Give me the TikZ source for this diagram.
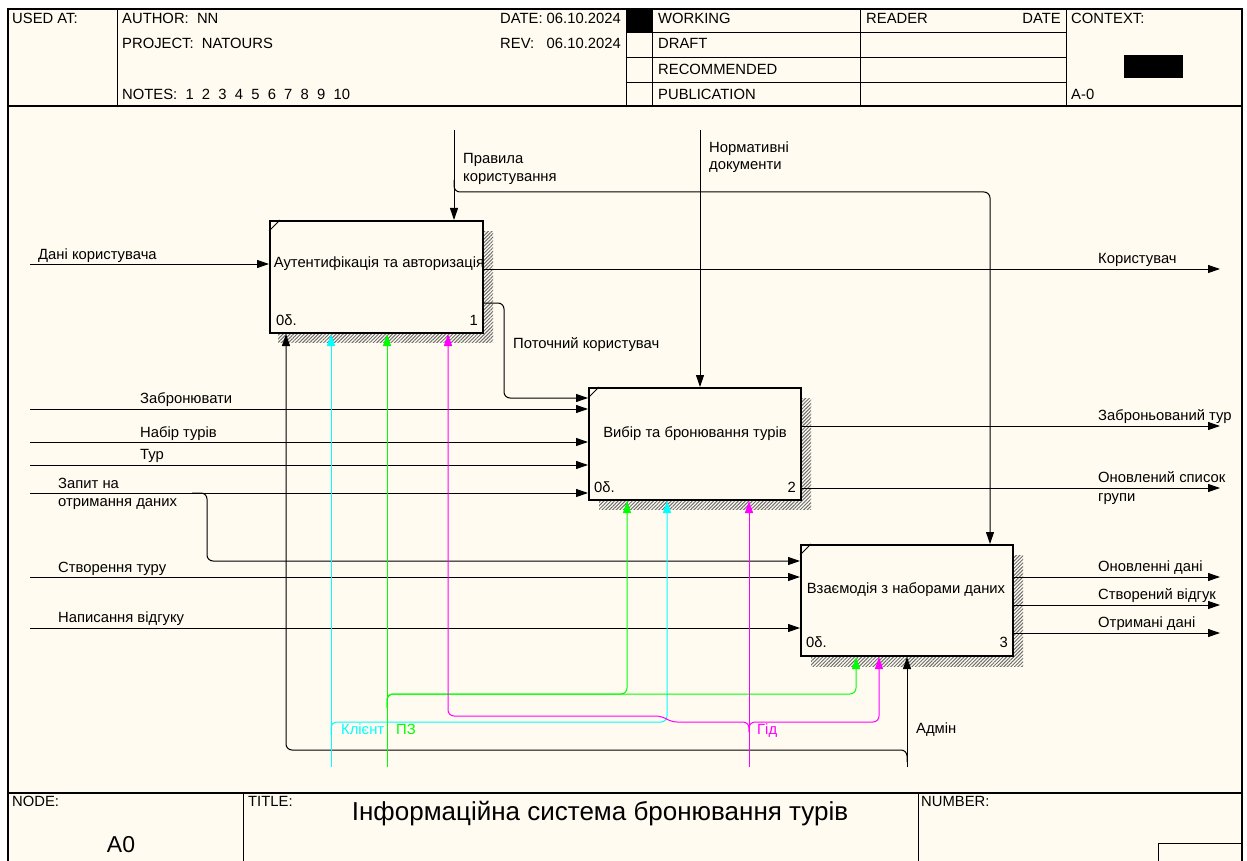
\documentclass[tikz,border=0pt]{standalone}
\usepackage{fontspec}
\setmainfont{Liberation Sans}
\usetikzlibrary{arrows.meta,calc,patterns.meta}
\definecolor{bg}{RGB}{255,251,240}
\definecolor{cyn}{RGB}{0,255,255}
\definecolor{grn}{RGB}{0,255,0}
\definecolor{mgn}{RGB}{255,0,255}
\definecolor{shd}{RGB}{110,110,110}
\begin{document}
\begin{tikzpicture}[x=1pt,y=-1pt,
  txt/.style={font=\fontsize{14.8}{17}\selectfont, inner sep=0pt, anchor=base west},
  txtr/.style={txt, anchor=base east},
  txtc/.style={txt, anchor=center},
  line/.style={line width=1pt},
  conn/.style={line width=1pt, rounded corners=6pt},
  arr/.style={-{Triangle[length=12pt,width=8pt]}},
  fbox/.style={draw, line width=2pt, fill=bg, rectangle, inner sep=0pt, anchor=north west},
  shadow/.style={pattern={Lines[angle=45,distance=2.5pt,line width=1pt]}, pattern color=shd},
  frame/.style={line width=1.2pt}
]
\useasboundingbox (0,0) rectangle (1247,861);
\fill[white] (0,0) rectangle (1247,861);
\draw[frame, fill=bg] (8,9) rectangle (1242,864);

% ---------- header ----------
\draw[frame] (8,106) -- (1242,106);
\foreach \x in {117,626,652,860,1066} \draw[line] (\x,9) -- (\x,106);
\foreach \y in {33,58,83} \draw[line] (626,\y) -- (1066,\y);
\fill (626,9) rectangle (652,33);
\fill (1124,55) rectangle (1183,78);
\node[txt] (hUsed) at (12,24) {USED AT:};
\node[txt] (hAuth) at (122,24) {AUTHOR:\ \ NN};
\node[txt] (hProj) at (122,49) {PROJECT:\ \ NATOURS};
\node[txt] (hNotes) at (122,100) {NOTES:\ \ 1\ \ 2\ \ 3\ \ 4\ \ 5\ \ 6\ \ 7\ \ 8\ \ 9\ \ 10};
\node[txt] (hDate) at (500,24) {DATE:};
\node[txtr] (hDateV) at (621,24) {06.10.2024};
\node[txt] (hRev) at (500,49) {REV:};
\node[txtr] (hRevV) at (621,49) {06.10.2024};
\node[txt] (hW) at (658,24) {WORKING};
\node[txt] (hD) at (658,49) {DRAFT};
\node[txt] (hR) at (658,75) {RECOMMENDED};
\node[txt] (hP) at (658,100) {PUBLICATION};
\node[txt] (hReader) at (866,24) {READER};
\node[txtr] (hRDate) at (1061,24) {DATE};
\node[txt] (hCtx) at (1071,24) {CONTEXT:};
\node[txt] (hA0) at (1071,100) {A-0};

% ---------- footer ----------
\draw[frame] (8,793) -- (1242,793);
\draw[line] (243,793) -- (243,864);
\draw[line] (918,793) -- (918,864);
\draw[line] (1158,864) -- (1158,843) -- (1242,843);
\node[txt] (fNode) at (12,806) {NODE:};
\node[txt, font=\fontsize{23}{27}\selectfont, anchor=center] (fA0) at (121,845) {A0};
\node[txt] (fTitle) at (248,806) {TITLE:};
\node[txt, font=\fontsize{26}{30}\selectfont, anchor=center] (fTitleT) at (600,814) {Інформаційна система бронювання турів};
\node[txt] (fNum) at (921,806) {NUMBER:};

% ---------- boxes ----------
\fill[shadow] (278,231) rectangle (493,342);
\fill[shadow] (599,398) rectangle (811,509);
\fill[shadow] (811,555) rectangle (1023,666);
\node[fbox, minimum width=213pt, minimum height=112pt] (b1) at (269,220) {};
\node[fbox, minimum width=212pt, minimum height=112pt] (b2) at (588,387) {};
\node[fbox, minimum width=212pt, minimum height=111pt] (b3) at (800,544) {};
\foreach \b in {b1,b2,b3} \draw[line] ($(\b.north west)+(0,11)$) -- ++(11,-11);
\node[txtc] (b1t) at (379,264) {Аутентифікація та авторизація};
\node[txtc] (b2t) at (695,434) {Вибір та бронювання турів};
\node[txtc] (b3t) at (906,590) {Взаємодія з наборами даних};
\node[txt] (b1c) at (276,325) {0δ.};
\node[txtr] (b1n) at (478,325) {1};
\node[txt] (b2c) at (594,492) {0δ.};
\node[txtr] (b2n) at (796,492) {2};
\node[txt] (b3c) at (806,647) {0δ.};
\node[txtr] (b3n) at (1008,647) {3};

% ---------- inputs ----------
\coordinate (iDK) at (30,264);
\coordinate (iZB) at (30,409);
\coordinate (iNT) at (30,442);
\coordinate (iTR) at (30,465);
\coordinate (iZP) at (30,493);
\coordinate (iST) at (30,577);
\coordinate (iNV) at (30,628);
\draw[line,arr] (iDK) -- (iDK -| b1.west);
\draw[line,arr] (iZB) -- (iZB -| b2.west);
\draw[line,arr] (iNT) -- (iNT -| b2.west);
\draw[line,arr] (iTR) -- (iTR -| b2.west);
\draw[line,arr] (iZP) -- (iZP -| b2.west);
\draw[line,arr] (iST) -- (iST -| b3.west);
\draw[line,arr] (iNV) -- (iNV -| b3.west);
\coordinate (hZP) at (192,493);
\coordinate (jZP) at (207,493);
\coordinate (kZP) at (207,561);
\draw[conn,arr] (hZP) -- (jZP) -- (kZP) -- (kZP -| b3.west);
\node[txt] (lDK) at (38,259) {Дані користувача};
\node[txt] (lZB) at (140,403) {Забронювати};
\node[txt] (lNT) at (140,437) {Набір турів};
\node[txt] (lTR) at (140,459) {Тур};
\node[txt] (lZP1) at (58,488) {Запит на};
\node[txt] (lZP2) at (58,506) {отримання даних};
\node[txt] (lST) at (58,572) {Створення туру};
\node[txt] (lNV) at (58,622) {Написання відгуку};

% ---------- outputs ----------
\coordinate (oKR) at (1220,269);
\coordinate (oZT) at (1220,426);
\coordinate (oOS) at (1220,488);
\coordinate (oOD) at (1220,577);
\coordinate (oSV) at (1220,605);
\coordinate (oOT) at (1220,633);
\draw[line,arr] (oKR -| b1.east) -- (oKR);
\draw[line,arr] (oZT -| b2.east) -- (oZT);
\draw[line,arr] (oOS -| b2.east) -- (oOS);
\draw[line,arr] (oOD -| b3.east) -- (oOD);
\draw[line,arr] (oSV -| b3.east) -- (oSV);
\draw[line,arr] (oOT -| b3.east) -- (oOT);
\node[txt] (lKR) at (1098,263) {Користувач};
\node[txt] (lZT) at (1098,420) {Заброньований тур};
\node[txt] (lOS1) at (1098,482) {Оновлений список};
\node[txt] (lOS2) at (1098,501) {групи};
\node[txt] (lOD) at (1098,571) {Оновленні дані};
\node[txt] (lSV) at (1098,599) {Створений відгук};
\node[txt] (lOT) at (1098,627) {Отримані дані};

% b1 -> b2
\coordinate (pKa) at (504,303);
\coordinate (pKb) at (504,398);
\draw[conn,arr] (pKa -| b1.east) -- (pKa) -- (pKb) -- (pKb -| b2.west);
\node[txt] (lPK) at (513,348) {Поточний користувач};

% ---------- controls ----------
\coordinate (cPR) at (454,130);
\coordinate (cPRa) at (454,180);
\coordinate (cPRb) at (990,192);
\draw[line,arr] (cPR) -- (cPR |- b1.north);
\draw[conn,arr] (cPRa) |- (cPRb) -- (cPRb |- b3.north);
\coordinate (cND) at (700,130);
\draw[line,arr] (cND) -- (cND |- b2.north);
\node[txt] (lPR1) at (463,164) {Правила};
\node[txt] (lPR2) at (463,182) {користування};
\node[txt] (lND1) at (709,153) {Нормативні};
\node[txt] (lND2) at (709,170) {документи};

% ---------- mechanisms ----------
\coordinate (mAD) at (907,767);
\coordinate (mADa) at (907,762);
\coordinate (mADb) at (286,750);
\draw[line,arr] (mAD) -- (mAD |- b3.south);
\draw[conn,arr] (mADa) |- (mADb) -- (mADb |- b1.south);

\coordinate (mKL) at (331,767);
\coordinate (mKLa) at (331,735);
\coordinate (mKLb) at (667,722);
\draw[cyn,line,arr] (mKL) -- (mKL |- b1.south);
\draw[cyn,conn,arr] (mKLa) |- (mKLb) -- (mKLb |- b2.south);

\coordinate (mPZ) at (387,767);
\coordinate (mPZa) at (387,708);
\coordinate (mPZb) at (627,694);
\coordinate (mPZc) at (856,694);
\draw[grn,line,arr] (mPZ) -- (mPZ |- b1.south);
\draw[grn,conn,arr] (mPZa) |- (mPZb) -- (mPZb |- b2.south);
\draw[grn,conn,arr] (mPZa) |- (mPZc) -- (mPZc |- b3.south);

\coordinate (mGD) at (749,767);
\coordinate (mGDa) at (749,732);
\coordinate (mGDb) at (879,722);
\coordinate (mGDd) at (671,722);
\coordinate (mGDe) at (662,716);
\coordinate (mGDc) at (448,716);
\draw[mgn,line,arr] (mGD) -- (mGD |- b2.south);
\draw[mgn,conn,arr] (mGDa) |- (mGDb) -- (mGDb |- b3.south);
\draw[mgn,conn,arr] (mGDa) |- (mGDd) -- (mGDe) -- (mGDc) -- (mGDc |- b1.south);

\node[txt, text=cyn] (lKL) at (341,734) {Клієнт};
\node[txt, text=grn] (lPZ) at (396,734) {ПЗ};
\node[txt, text=mgn] (lGD) at (757,734) {Гід};
\node[txt] (lAD) at (916,733) {Адмін};
\end{tikzpicture}
\end{document}
